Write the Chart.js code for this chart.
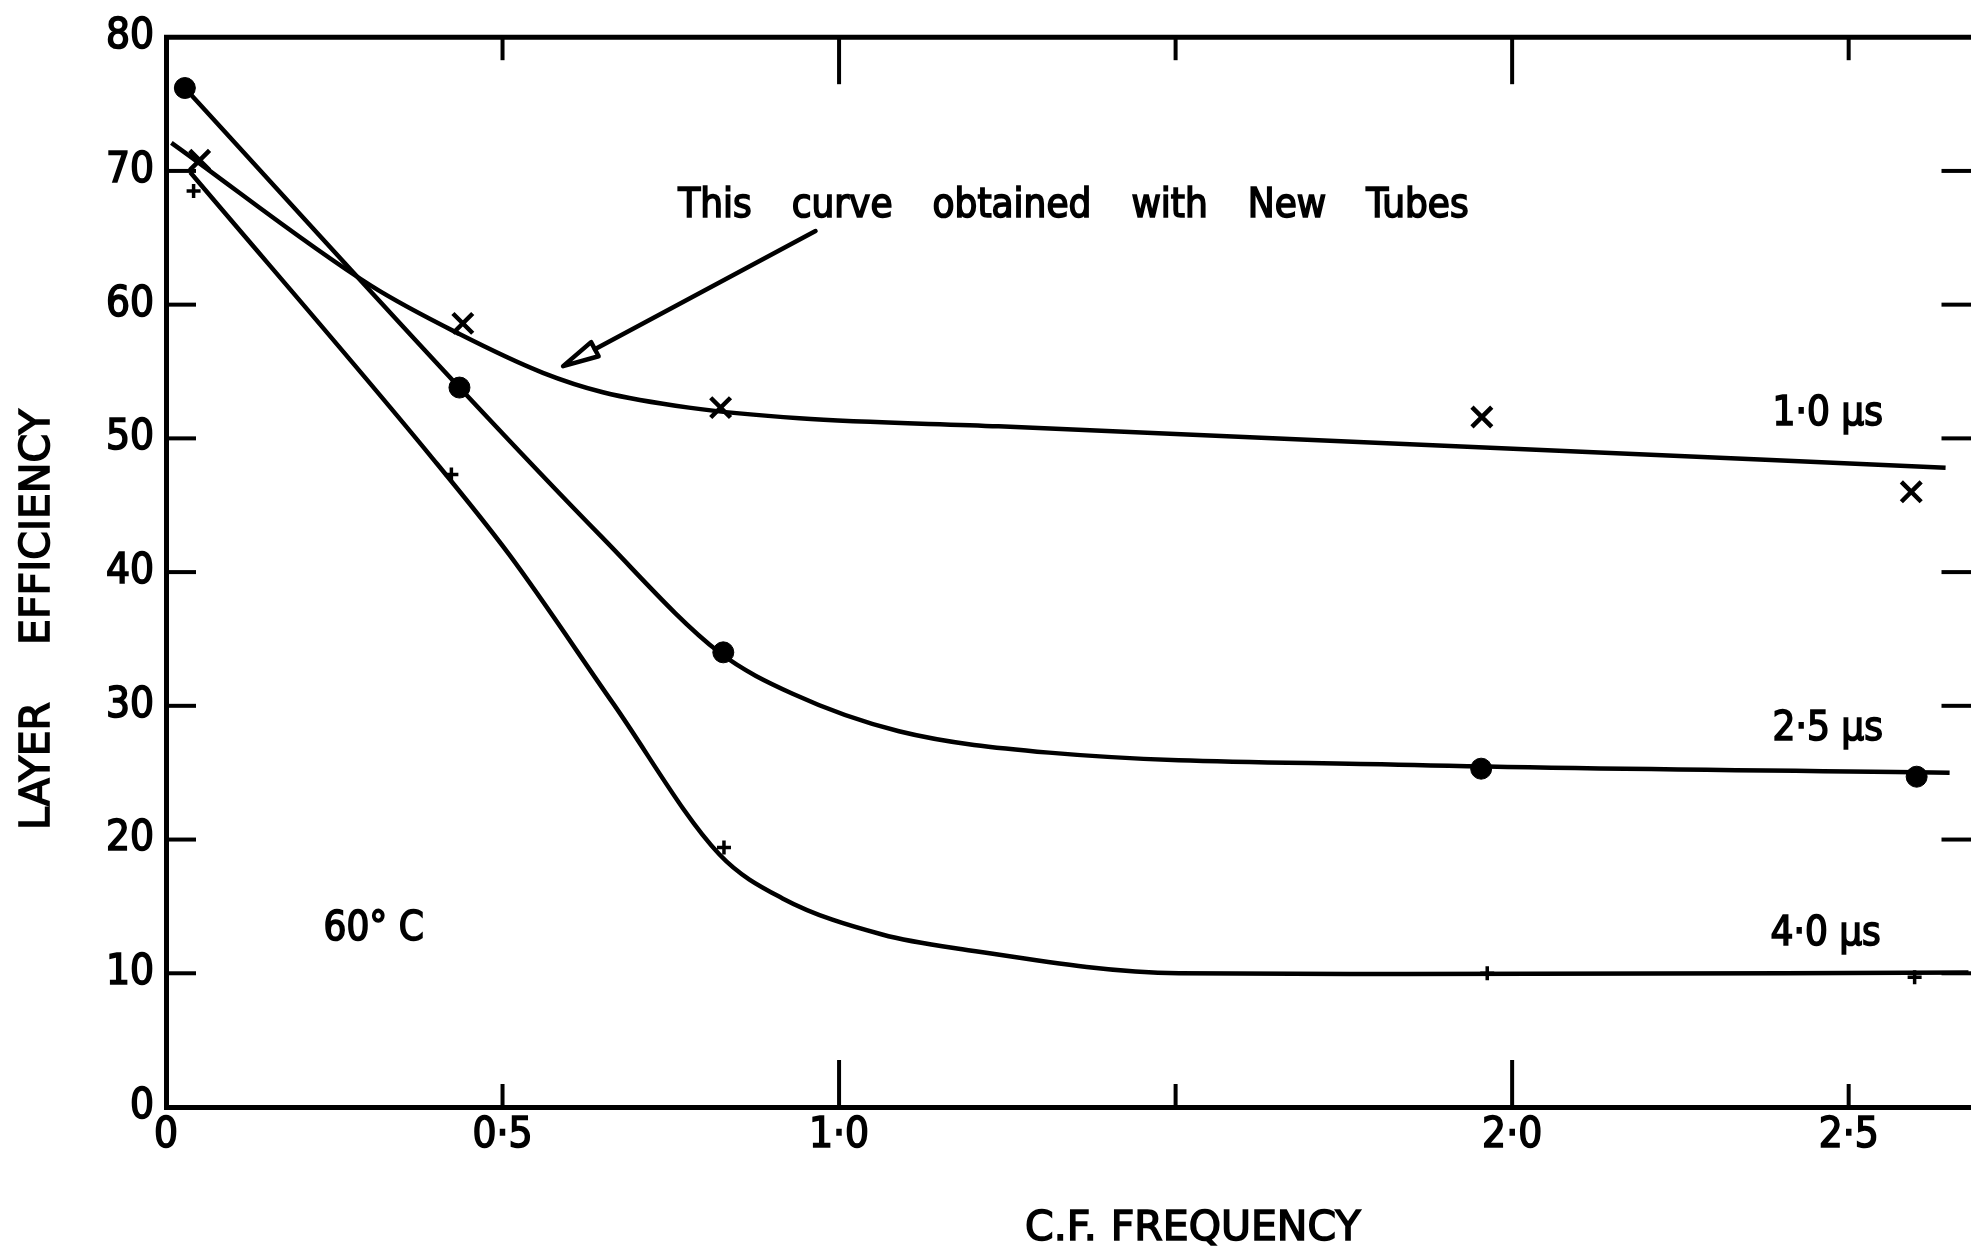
<!DOCTYPE html>
<html lang="en">
  <head>
    <meta charset="UTF-8" />
    <title>Layer efficiency against C.F. frequency</title>
    <style>
      html,
      body {
        margin: 0;
        padding: 0;
        background-color: #fff;
        overflow: hidden;
      }

      #wrap {
        width: 1990px;
        height: 1246px;
      }
    </style>
  </head>
  <body>
    <div id="wrap">
      <canvas id="chart" width="1990" height="1246"></canvas>
    </div>

    <script src="https://cdn.jsdelivr.net/npm/chart.js"></script>
    <script>
      // axis ticks
      var xTickValues = [0, 0.5, 1.0, 1.5, 2.0, 2.5];
      var xTickLabels = ["0", "0·5", "1·0", "", "2·0", "2·5"];
      var yTickValues = [0, 10, 20, 30, 40, 50, 60, 70, 80];
      var yTickLabels = ["0", "10", "20", "30", "40", "50", "60", "70", "80"];

      // measured points (x = C.F. frequency, y = layer efficiency)
      var pts10X = [0.05, 0.441, 0.824, 1.955, 2.593];
      var pts10Y = [70.8, 58.6, 52.3, 51.6, 46.0];
      var pts25X = [0.028, 0.436, 0.828, 1.954, 2.601];
      var pts25Y = [76.2, 53.8, 34.0, 25.3, 24.7];
      var pts40X = [0.041, 0.424, 0.829, 1.963, 2.598];
      var pts40Y = [68.5, 47.3, 19.4, 10.0, 9.7];

      // hand drawn curves
      var curve10X = [0.008, 0.305, 0.436, 0.56, 0.649, 0.777, 0.941, 1.237, 1.831, 2.644];
      var curve10Y = [72.1, 61.4, 57.8, 54.9, 53.45, 52.3, 51.5, 50.9, 49.6, 47.8];
      var curve25X = [0.028, 0.436, 0.644, 0.822, 0.931, 1.089, 1.312, 1.831, 2.65];
      var curve25Y = [76.2, 53.8, 42.8, 34.0, 30.9, 28.1, 26.5, 25.6, 25.0];
      var curve40X = [0.036, 0.392, 0.51, 0.664, 0.822, 0.916, 1.064, 1.183, 1.505, 1.831, 2.678];
      var curve40Y = [69.9, 48.75, 41.3, 30.2, 18.9, 15.6, 12.9, 11.8, 10.0, 9.95, 10.05];

      var seriesNames = ["1·0 µs", "2·5 µs", "4·0 µs"];

      var FONT = '"DejaVu Sans Condensed", "DejaVu Sans", sans-serif';
      var TITLE_FONT = '"DejaVu Sans", sans-serif';

      // text and arrow placed in data units
      var notes = [
        { words: ["This", "curve", "obtained", "with", "New", "Tubes"], x: 0.761, y: 66.57, gap: 40 },
        { words: [seriesNames[0]], x: 2.387, y: 51.0, gap: 0 },
        { words: [seriesNames[1]], x: 2.387, y: 27.45, gap: 0 },
        { words: [seriesNames[2]], x: 2.384, y: 12.15, gap: 0 },
        { words: ["60° C"], x: 0.234, y: 12.5, gap: 0 },
      ];
      var arrow = { fromX: 0.965, fromY: 65.5, toX: 0.59, toY: 55.4 };

      function zip(xs, ys) {
        return xs.map(function (x, i) {
          return { x: x, y: ys[i] };
        });
      }

      function curveSet(xs, ys) {
        return {
          data: zip(xs, ys),
          showLine: true,
          borderColor: "#000",
          borderWidth: 4.5,
          pointRadius: 0,
          cubicInterpolationMode: "monotone",
          fill: false,
        };
      }

      function markerSet(xs, ys, style, radius, width) {
        return {
          data: zip(xs, ys),
          showLine: false,
          pointStyle: style,
          pointRadius: radius,
          pointBorderWidth: width,
          pointBorderColor: "#000",
          pointBackgroundColor: "#000",
        };
      }

      function drawWords(ctx, words, x, y, gap) {
        var cx = x;
        for (var i = 0; i < words.length; i++) {
          ctx.fillText(words[i], cx, y);
          ctx.strokeText(words[i], cx, y);
          cx += ctx.measureText(words[i]).width + gap;
        }
      }

      function line(ctx, x1, y1, x2, y2) {
        ctx.beginPath();
        ctx.moveTo(x1, y1);
        ctx.lineTo(x2, y2);
        ctx.stroke();
      }

      var framePlugin = {
        id: "frame",
        afterDraw: function (chart) {
          var ctx = chart.ctx;
          var a = chart.chartArea;
          var xs = chart.scales.x;
          var ys = chart.scales.y;

          ctx.save();
          ctx.strokeStyle = "#000";
          ctx.fillStyle = "#000";

          // top border
          ctx.lineWidth = 5;
          line(ctx, a.left - 2, a.top, a.right, a.top);

          // inward ticks
          ctx.lineWidth = 4;
          xTickValues.forEach(function (v) {
            if (v === 0) return;
            var px = xs.getPixelForValue(v);
            var len = v % 1 === 0 ? 47 : 23;
            line(ctx, px, a.bottom, px, a.bottom - len);
            line(ctx, px, a.top, px, a.top + len);
          });
          yTickValues.forEach(function (v) {
            if (v === 0 || v === 80) return;
            var py = ys.getPixelForValue(v);
            line(ctx, a.left, py, a.left + 30, py);
            line(ctx, a.right - 30, py, a.right, py);
          });

          // arrow
          var x1 = xs.getPixelForValue(arrow.fromX);
          var y1 = ys.getPixelForValue(arrow.fromY);
          var x2 = xs.getPixelForValue(arrow.toX);
          var y2 = ys.getPixelForValue(arrow.toY);
          var ang = Math.atan2(y2 - y1, x2 - x1);
          var headLen = 36;
          var bx = x2 - headLen * Math.cos(ang);
          var by = y2 - headLen * Math.sin(ang);
          ctx.lineWidth = 4.5;
          ctx.lineCap = "round";
          line(ctx, x1, y1, bx, by);
          ctx.lineWidth = 4.5;
          ctx.lineJoin = "round";
          ctx.beginPath();
          ctx.moveTo(x2, y2);
          ctx.lineTo(bx + 8 * Math.sin(ang), by - 8 * Math.cos(ang));
          ctx.lineTo(bx - 8 * Math.sin(ang), by + 8 * Math.cos(ang));
          ctx.closePath();
          ctx.stroke();

          // notes
          ctx.lineWidth = 1.6;
          ctx.lineJoin = "miter";
          ctx.font = "40px " + FONT;
          ctx.textBaseline = "alphabetic";
          ctx.textAlign = "left";
          notes.forEach(function (n) {
            drawWords(ctx, n.words, xs.getPixelForValue(n.x), ys.getPixelForValue(n.y), n.gap);
          });

          // axis titles
          ctx.font = "41px " + TITLE_FONT;
          drawWords(ctx, ["C.F.", "FREQUENCY"], 1025, 1240, 14);
          ctx.translate(49, 830);
          ctx.rotate(-Math.PI / 2);
          drawWords(ctx, ["LAYER", "EFFICIENCY"], 0, 0, 57);
          ctx.restore();
        },
      };

      new Chart(document.getElementById("chart"), {
        type: "scatter",
        data: {
          datasets: [
            markerSet(pts10X, pts10Y, "crossRot", 14, 4.5),
            markerSet(pts25X, pts25Y, "circle", 10.5, 1),
            markerSet(pts40X, pts40Y, "cross", 7, 3.5),
            curveSet(curve10X, curve10Y),
            curveSet(curve25X, curve25Y),
            curveSet(curve40X, curve40Y),
          ],
        },
        options: {
          responsive: false,
          animation: false,
          events: [],
          layout: {
            padding: { top: 29, right: 16, bottom: 0, left: 0 },
          },
          plugins: {
            legend: { display: false },
            tooltip: { enabled: false },
          },
          scales: {
            x: {
              type: "linear",
              min: 0,
              max: 2.6825,
              afterFit: function (scale) {
                scale.height = 139;
              },
              afterBuildTicks: function (scale) {
                scale.ticks = xTickValues.map(function (v) {
                  return { value: v };
                });
              },
              grid: { display: false, drawTicks: false },
              border: { display: true, color: "#000", width: 5 },
              ticks: {
                color: "#000",
                textStrokeColor: "#000",
                textStrokeWidth: 1.6,
                padding: 4,
                maxRotation: 0,
                autoSkip: false,
                font: { family: FONT, size: 42 },
                callback: function (value) {
                  var i = xTickValues.indexOf(value);
                  return i < 0 ? "" : xTickLabels[i];
                },
              },
            },
            y: {
              type: "linear",
              min: 0,
              max: 80,
              afterFit: function (scale) {
                scale.width = 166;
              },
              afterBuildTicks: function (scale) {
                scale.ticks = yTickValues.map(function (v) {
                  return { value: v };
                });
              },
              grid: { display: false, drawTicks: false },
              border: { display: true, color: "#000", width: 5 },
              ticks: {
                color: "#000",
                textStrokeColor: "#000",
                textStrokeWidth: 1.6,
                padding: 12,
                font: { family: FONT, size: 42 },
                callback: function (value) {
                  var i = yTickValues.indexOf(value);
                  return i < 0 ? "" : yTickLabels[i];
                },
              },
            },
          },
        },
        plugins: [framePlugin],
      });
    </script>
  </body>
</html>
